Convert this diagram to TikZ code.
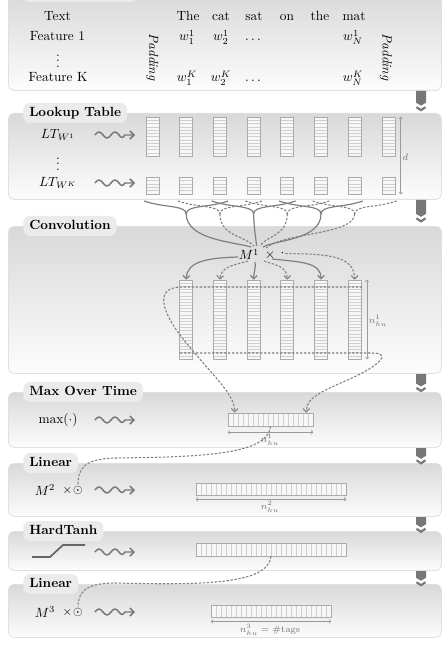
\documentclass[tikz,border=0pt]{standalone}
\usetikzlibrary{arrows.meta,calc}
\definecolor{conn}{HTML}{808080}
\definecolor{boxline}{HTML}{ABABAB}
\definecolor{stripec}{HTML}{CFCFCF}
\definecolor{panelline}{HTML}{E0E0E0}
\definecolor{tabfill}{HTML}{EBEBEB}
\definecolor{arrowg}{HTML}{777777}
\definecolor{dimc}{HTML}{9A9A9A}
\tikzset{
  panel/.style={draw=panelline, line width=0.6pt, rounded corners=4pt, top color=black!15, bottom color=black!1, minimum width=324.75pt, inner sep=0pt, anchor=north west},
  tab/.style={fill=tabfill, rounded corners=5pt, font=\bfseries, inner xsep=4.5pt, inner ysep=0pt, minimum height=15pt, text height=7pt, text depth=1.5pt, anchor=west},
  colbox/.style={draw=boxline, line width=0.5pt, fill=black!3, inner sep=0pt},
  stripe/.style={draw=stripec, line width=0.3pt},
  hstripes/.style={path picture={\foreach \k in {1,...,#1}{\pgfmathsetmacro\stripf{\k/(#1+1)}\draw[stripe] ($(path picture bounding box.north west)!\stripf!(path picture bounding box.south west)$) -- ($(path picture bounding box.north east)!\stripf!(path picture bounding box.south east)$);}}},
  vstripes/.style={path picture={\foreach \k in {1,...,#1}{\pgfmathsetmacro\stripf{\k/(#1+1)}\draw[stripe] ($(path picture bounding box.north west)!\stripf!(path picture bounding box.north east)$) -- ($(path picture bounding box.south west)!\stripf!(path picture bounding box.south east)$);}}},
  conn/.style={draw=conn, line width=0.9pt},
  dconn/.style={draw=conn, line width=0.8pt, dash pattern=on 1.8pt off 1.2pt},
  arr/.style={-{Straight Barb[length=2.5pt,width=5pt]}},
  dim/.style={draw=dimc, line width=0.4pt, {Straight Barb[length=1.5pt,width=3pt]}-{Straight Barb[length=1.5pt,width=3pt]}},
  lbl/.style={font=\scriptsize, text=black!55, inner sep=0.5pt},
  pics/squig/.style={code={\draw[draw=arrowg, line width=1.1pt, -{Straight Barb[length=3pt,width=6pt]}] (0,0) sin (4,-3) cos (8,0) sin (12,3) cos (16,0) sin (20,-3) cos (24,0) sin (27,2.5) cos (30,0) -- (40,0);}}
}
\begin{document}
\begin{tikzpicture}[x=0.75pt,y=-0.75pt]
\useasboundingbox (0,0) rectangle (448,645);
\clip (0,0) rectangle (448,645);
\fill[white] (0,0) rectangle (448,645);

% panels
\node[panel, minimum height=73.5pt] (p1) at (8,-8) {};
\node[panel, minimum height=64.5pt] (p2) at (8,113) {};
\node[panel, minimum height=110.25pt] (p3) at (8,226) {};
\node[panel, minimum height=41.25pt] (p4) at (8,392) {};
\node[panel, minimum height=39.75pt] (p5) at (8,463) {};
\node[panel, minimum height=29.25pt] (p6) at (8,531) {};
\node[panel, minimum height=39.75pt] (p7) at (8,584) {};

% tabs
\node[tab, minimum width=85.5pt] (t1) at (23,-8) {};
\node[tab] (t2) at (23,113) {Lookup Table};
\node[tab] (t3) at (23,226) {Convolution};
\node[tab] (t4) at (23,392) {Max Over Time};
\node[tab] (t5) at (23,463) {Linear};
\node[tab] (t6) at (23,531) {HardTanh};
\node[tab] (t7) at (23,584) {Linear};

% right-hand flow arrows
\foreach \a/\b in {90/113,199/226,373/392,447/463,516/531,570/584}{
  \pgfmathsetmacro\mm{\a+0.55*(\b-\a)}
  \fill[arrowg] (416,\a+1) -- (426,\a+1) -- (426,\mm) -- (421,\mm+3) -- (416,\mm) -- cycle;
  \draw[arrowg, line width=1.6pt] (416.5,\mm+4.5) -- (421,\mm+7.5) -- (425.5,\mm+4.5);
}

% input text panel
\node[anchor=base] (ttext) at (57.5,21) {Text};
\node[anchor=base] (tf1) at (57.5,41) {Feature 1};
\node (tfv) at (58,57) {$\vdots$};
\node[anchor=base] (tfk) at (58,82) {Feature K};
\node[anchor=base] (wd1) at (188,21) {The};
\node[anchor=base] (wd2) at (221,21) {cat};
\node[anchor=base] (wd3) at (254,21) {sat};
\node[anchor=base] (wd4) at (287,21) {on};
\node[anchor=base] (wd5) at (320,21) {the};
\node[anchor=base] (wd6) at (354,21) {mat};
\node[anchor=base] (w11) at (187,41) {$w_1^1$};
\node[anchor=base] (w21) at (221,41) {$w_2^1$};
\node[anchor=base] (wc1) at (253,41) {$\ldots$};
\node[anchor=base] (wn1) at (353,41) {$w_N^1$};
\node[anchor=base] (w1k) at (187,82) {$w_1^K$};
\node[anchor=base] (w2k) at (221,82) {$w_2^K$};
\node[anchor=base] (wck) at (253,82) {$\ldots$};
\node[anchor=base] (wnk) at (353,82) {$w_N^K$};
\node[rotate=-90, font=\itshape] (padl) at (152.5,57) {Padding};
\node[rotate=-90, font=\itshape] (padr) at (386,57) {Padding};

% lookup table
\node (ltw1) at (58,135) {$LT_{W^1}$};
\node (ltv) at (58,160) {$\vdots$};
\node (ltwk) at (58,183) {$LT_{W^K}$};
\pic at (95,135) {squig};
\pic at (95,183) {squig};
\foreach \i in {1,...,8}{
  \pgfmathsetmacro\cx{152.5+33.7*(\i-1)}
  \node[colbox, hstripes=11, minimum width=9.75pt, minimum height=29.25pt] (lta-\i) at (\cx,136.5) {};
  \node[colbox, hstripes=4, minimum width=9.75pt, minimum height=12.75pt] (ltb-\i) at (\cx,185.5) {};
}
\draw[dim] ($(lta-8.north east)+(5.5,0)$) -- ($(ltb-8.south east)+(5.5,0)$);
\node[lbl] (dlab) at (405.5,157) {$d$};

% convolution
\node (m1) at (249,254.5) {$M^1$};
\node (x1) at (270,255.5) {$\times$};
\node[inner sep=0.5pt] (d1) at (282.5,253.5) {$\cdot$};
\foreach \i in {1,...,6}{
  \pgfmathsetmacro\cx{186.2+33.7*(\i-1)}
  \node[colbox, hstripes=24, minimum width=9.75pt, minimum height=59.25pt] (cv-\i) at (\cx,319.5) {};
}
% window braces
\foreach \c/\s in {186.2/conn,253.6/conn,321/conn,219.9/dconn,287.3/dconn,354.7/dconn}{
  \draw[\s] (\c-42,201) .. controls (\c-22,208) and (\c,205) .. (\c,214);
  \draw[\s] (\c+42,201) .. controls (\c+22,208) and (\c,205) .. (\c,214);
}
\draw[conn]  (186.2,214) .. controls (186.5,240) and (235,242) .. (251,247);
\draw[dconn] (219.9,214) .. controls (220,236) and (245,236) .. (254,246);
\draw[conn]  (253.6,214) .. controls (254,230) and (256,238) .. (256.5,246);
\draw[dconn] (287.3,214) .. controls (287,236) and (266,236) .. (260,246);
\draw[conn]  (321,214) .. controls (321,240) and (275,240) .. (263,247);
\draw[dconn] (354.7,214) .. controls (354,235) and (285,232) .. (266,248);
% M1 to conv columns
\draw[conn, arr]  (238,257) .. controls (205,258) and (187,262) .. (cv-1.north);
\draw[dconn, arr] (248,261) .. controls (235,265) and (221,266) .. (cv-2.north);
\draw[conn, arr]  (255,262) .. controls (256,268) and (254,270) .. (cv-3.north);
\draw[dconn, arr] (264,261) .. controls (275,265) and (287,266) .. (cv-4.north);
\draw[conn, arr]  (272,259) .. controls (300,262) and (321,262) .. (cv-5.north);
\draw[dconn, arr] (d1.east) .. controls (330,254) and (354,256) .. (cv-6.north);
\draw[dim] ($(cv-6.north east)+(5.5,0)$) -- ($(cv-6.south east)+(5.5,0)$);
\node[lbl] (n1lab) at (378,321) {$n^1_{hu}$};

% max over time
\node (mxl) at (58,420) {$\max(\cdot)$};
\pic at (95,420) {squig};
\node[colbox, vstripes=16, minimum width=63.75pt, minimum height=9.75pt] (mx) at (270.5,419.5) {};
\draw[dconn, arr] (362,287) -- (182,287) .. controls (150,287) and (165,318) .. (188,345) .. controls (215,378) and (235,395) .. ($(mx.north west)+(7,0)$);
\draw[dconn, arr] (180,353) -- (372,353) .. controls (392,353) and (380,365) .. (352,378) .. controls (320,392) and (306,398) .. ($(mx.north east)+(-7,0)$);
\draw[dim] ($(mx.south west)+(0,6)$) -- ($(mx.south east)+(0,6)$);
\node[lbl] (n1lab2) at (270,440) {$n^1_{hu}$};

% linear 1
\node (m2) at (45,490) {$M^2$};
\node[font=\small] (x2) at (67.5,490.5) {$\times$};
\node[font=\small, inner sep=0.5pt] (o2) at (78,490.5) {$\odot$};
\pic at (95,490) {squig};
\node[colbox, vstripes=29, minimum width=112.5pt, minimum height=9pt] (lin1) at (271,489) {};
\draw[dim] ($(lin1.south west)+(0,4)$) -- ($(lin1.south east)+(0,4)$);
\node[lbl] (n2lab) at (270,507) {$n^2_{hu}$};
\draw[dconn] (mx.south) .. controls (268,455) and (200,457) .. (115,458) .. controls (82,459) and (78,470) .. (o2.north);

% hardtanh
\draw[draw=black!60, line width=1.3pt] (32,557) -- (50,557) -- (63,545) -- (85,545);
\pic at (95,552) {squig};
\node[colbox, vstripes=29, minimum width=112.5pt, minimum height=9.75pt] (ht) at (271,549.5) {};

% linear 2
\node (m3) at (45,612) {$M^3$};
\node[font=\small] (x3) at (67.5,612.5) {$\times$};
\node[font=\small, inner sep=0.5pt] (o3) at (78,612.5) {$\odot$};
\pic at (95,612) {squig};
\node[colbox, vstripes=23, minimum width=90pt, minimum height=9pt] (lin2) at (271,611) {};
\draw[dim] ($(lin2.south west)+(0,4)$) -- ($(lin2.south east)+(0,4)$);
\node[lbl] (n3lab) at (270,630) {$n^3_{hu} = \#\mathrm{tags}$};
\draw[dconn] (ht.south) .. controls (268,585) and (200,585) .. (115,583) .. controls (82,583) and (78,595) .. (o3.north);
\end{tikzpicture}
\end{document}
